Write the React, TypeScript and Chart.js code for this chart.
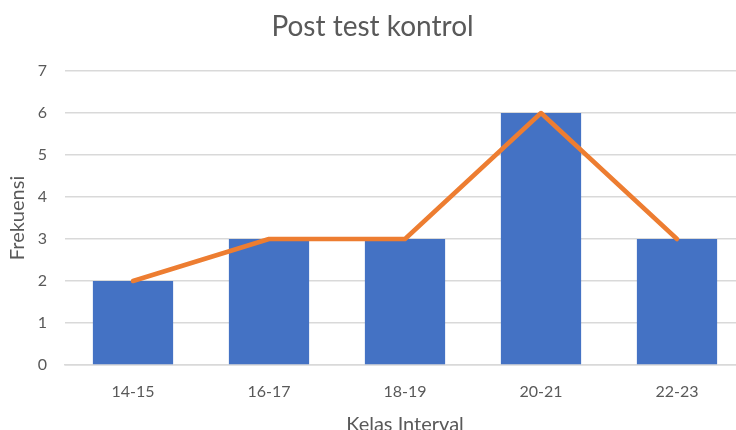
import React, { useEffect, useRef } from "react";
import { Chart, registerables } from "chart.js";

Chart.register(...registerables);

const categories = ["14-15", "16-17", "18-19", "20-21", "22-23"];
const barValues = [2, 3, 3, 6, 3];
const lineValues = [2, 3, 3, 6, 3];
const yTicks = [0, 1, 2, 3, 4, 5, 6, 7];

const FONT = "Lato, 'Open Sans', sans-serif";
const TEXT = "#595959";

export default function App() {
  const ref = useRef<HTMLCanvasElement | null>(null);
  useEffect(() => {
    if (!ref.current) return;
    const chart = new Chart(ref.current, {
      data: {
        labels: categories,
        datasets: [
          {
            type: "line",
            data: lineValues,
            borderColor: "#ED7D31",
            backgroundColor: "#ED7D31",
            borderWidth: 4.5,
            pointRadius: 0,
            tension: 0,
            borderCapStyle: "round",
            borderJoinStyle: "round",
            order: 0,
          },
          {
            type: "bar",
            data: barValues,
            backgroundColor: "#4472C4",
            categoryPercentage: 1,
            barPercentage: 0.59,
            order: 1,
          },
        ],
      },
      options: {
        responsive: false,
        animation: false,
        layout: { padding: { left: 0, right: 15, top: 0, bottom: 0 } },
        plugins: {
          legend: { display: false },
          tooltip: { enabled: false },
          title: {
            display: true,
            text: "Post test kontrol",
            color: TEXT,
            font: { family: FONT, size: 28, weight: "normal" },
            padding: { top: 10, bottom: 27.4 },
          },
        },
        scales: {
          x: {
            grid: { display: false, drawTicks: false },
            border: { display: true, color: "#d9d9d9", width: 1.5 },
            ticks: { color: TEXT, font: { family: FONT, size: 16 }, padding: 17 },
            title: {
              display: true,
              text: "Kelas Interval",
              color: TEXT,
              font: { family: FONT, size: 20 },
              padding: { top: 0, bottom: 8 },
            },
            afterFit: (s: any) => {
              s.height = 80;
            },
          },
          y: {
            min: 0,
            max: 7,
            afterBuildTicks: (s: any) => {
              s.ticks = yTicks.map((v) => ({ value: v }));
            },
            grid: { color: "#d9d9d9", lineWidth: 1.5, drawTicks: false },
            border: { display: false },
            ticks: { color: TEXT, font: { family: FONT, size: 16 }, padding: 18 },
            title: {
              display: true,
              text: "Frekuensi",
              color: TEXT,
              font: { family: FONT, size: 20 },
              padding: { top: 5.5, bottom: 0 },
            },
            afterFit: (s: any) => {
              s.width = 65;
            },
          },
        },
      },
    } as any);
    return () => chart.destroy();
  }, []);
  return (
    <div
      style={{
        position: "fixed",
        left: 0,
        top: 0,
        width: 736,
        height: 430,
        overflow: "hidden",
        background: "#fff",
      }}
    >
      <canvas ref={ref} width={760} height={445} style={{ display: "block", width: 760, height: 445 }} />
    </div>
  );
}
